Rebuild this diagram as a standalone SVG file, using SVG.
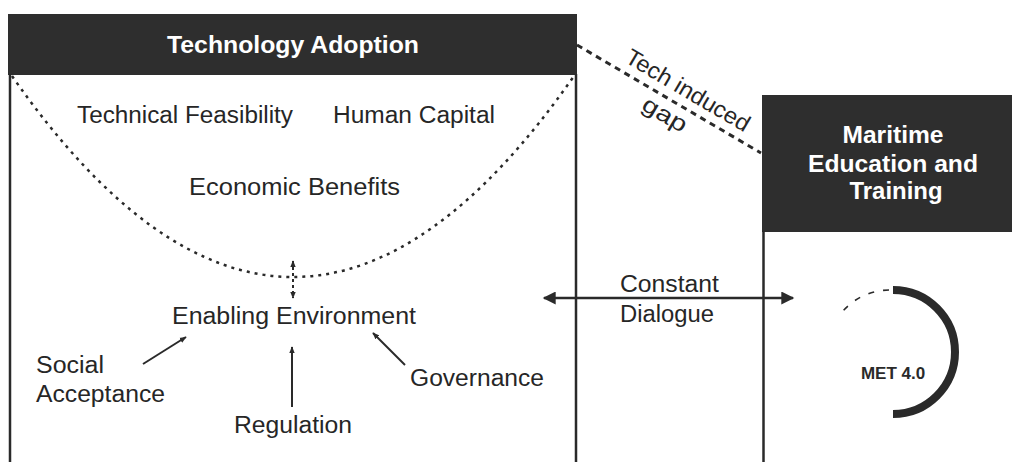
<svg xmlns="http://www.w3.org/2000/svg" width="1012" height="462" viewBox="0 0 1012 462">
<defs>
<style>
.t{font-family:"Liberation Sans",Arial,sans-serif;font-size:23px;fill:#262626}
.h{font-family:"Liberation Sans",Arial,sans-serif;font-size:24px;font-weight:bold;fill:#ffffff}
.ln{stroke:#2a2a2a;fill:none}
</style>
<marker id="ah" viewBox="0 0 10 10" refX="9" refY="5" markerWidth="10" markerHeight="10" markerUnits="userSpaceOnUse" orient="auto-start-reverse"><path d="M0,0 L10,5 L0,10 Z" fill="#2a2a2a"/></marker>
<marker id="ahs" viewBox="0 0 10 10" refX="9" refY="5" markerWidth="7" markerHeight="7" markerUnits="userSpaceOnUse" orient="auto-start-reverse"><path d="M0,1 L10,5 L0,9 Z" fill="#2a2a2a"/></marker>
<marker id="ahb" viewBox="0 0 10 10" refX="9" refY="5" markerWidth="14" markerHeight="13" markerUnits="userSpaceOnUse" orient="auto-start-reverse"><path d="M0,0 L10,5 L0,10 Z" fill="#2a2a2a"/></marker>
</defs>
<rect width="1012" height="462" fill="#ffffff"/>

<g id="tech-adoption">
<rect x="8" y="14" width="569" height="61" fill="#2e2e2e"/>
<text class="h" x="293" y="53" text-anchor="middle" textLength="252" lengthAdjust="spacingAndGlyphs">Technology Adoption</text>
<line class="ln" x1="10" y1="74" x2="10" y2="462" stroke-width="2.5"/>
<line class="ln" x1="576" y1="74" x2="576" y2="462" stroke-width="2.5"/>
<path class="ln" d="M12,76 Q293,478 574,76" stroke-width="2.5" stroke-dasharray="3,5"/>
</g>

<g id="technical-feasibility"><text class="t" x="77" y="123" textLength="216" lengthAdjust="spacingAndGlyphs">Technical Feasibility</text></g>
<g id="human-capital"><text class="t" x="333" y="123" textLength="162" lengthAdjust="spacingAndGlyphs">Human Capital</text></g>
<g id="economic-benefits"><text class="t" x="189" y="195" textLength="211" lengthAdjust="spacingAndGlyphs">Economic Benefits</text></g>
<g id="enabling-environment"><text class="t" x="172" y="324" textLength="244" lengthAdjust="spacingAndGlyphs">Enabling Environment</text></g>
<g id="social-acceptance"><text class="t" x="36" y="373" textLength="68" lengthAdjust="spacingAndGlyphs">Social</text><text class="t" x="36" y="402" textLength="129" lengthAdjust="spacingAndGlyphs">Acceptance</text></g>
<g id="regulation"><text class="t" x="234" y="433" textLength="118" lengthAdjust="spacingAndGlyphs">Regulation</text></g>
<g id="governance"><text class="t" x="410" y="386" textLength="134" lengthAdjust="spacingAndGlyphs">Governance</text></g>

<g id="met">
<rect x="762" y="95" width="250" height="137" fill="#2e2e2e"/>
<text class="h" x="893" y="143" text-anchor="middle" textLength="101" lengthAdjust="spacingAndGlyphs">Maritime</text>
<text class="h" x="893" y="172" text-anchor="middle" textLength="170" lengthAdjust="spacingAndGlyphs">Education and</text>
<text class="h" x="896" y="199" text-anchor="middle" textLength="93" lengthAdjust="spacingAndGlyphs">Training</text>
<line class="ln" x1="763.5" y1="231" x2="763.5" y2="462" stroke-width="2.5"/>
</g>

<g id="met40">
<path class="ln" d="M893,290 A62,62 0 0 1 893,414" stroke="#2e2e2e" stroke-width="8"/>
<path class="ln" d="M889,290 A62,62 0 0 0 843,311" stroke-width="1.6" stroke-dasharray="6,9"/>
<text x="893" y="379" text-anchor="middle" font-family="Liberation Sans,Arial,sans-serif" font-size="17" font-weight="bold" fill="#2a2a2a">MET 4.0</text>
</g>

<g id="connectors">
<line class="ln" x1="577" y1="45" x2="761" y2="153" stroke-width="3" stroke-dasharray="6,5"/>
<text class="t" transform="translate(684,97) rotate(30.5)" text-anchor="middle" textLength="140" lengthAdjust="spacingAndGlyphs">Tech induced</text>
<text class="t" transform="translate(661,121) rotate(30.5)" text-anchor="middle" textLength="48" lengthAdjust="spacingAndGlyphs">gap</text>
<line class="ln" x1="544" y1="298" x2="793" y2="298" stroke-width="2.5" marker-start="url(#ahb)" marker-end="url(#ahb)"/>
<text class="t" x="620" y="292" textLength="99" lengthAdjust="spacingAndGlyphs">Constant</text>
<text class="t" x="620" y="322" textLength="94" lengthAdjust="spacingAndGlyphs">Dialogue</text>
<line class="ln" x1="293" y1="261" x2="293" y2="298" stroke-width="2" stroke-dasharray="3,3" marker-start="url(#ahs)" marker-end="url(#ahs)"/>
<line class="ln" x1="143" y1="364" x2="186" y2="337" stroke-width="2" marker-end="url(#ahs)"/>
<line class="ln" x1="292" y1="407" x2="292" y2="347" stroke-width="2" marker-end="url(#ahs)"/>
<line class="ln" x1="405" y1="365" x2="373" y2="333" stroke-width="2" marker-end="url(#ahs)"/>
</g>
</svg>
